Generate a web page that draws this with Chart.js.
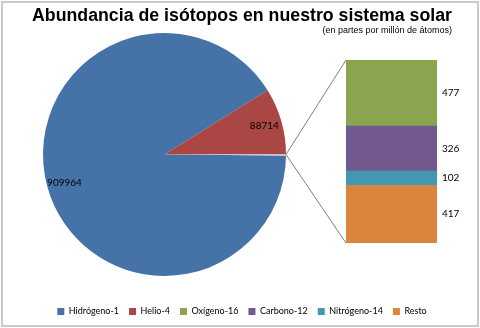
<!DOCTYPE html>
<html>
<head>
<meta charset="utf-8">
<title>Abundancia de isótopos</title>
<script src="https://cdn.jsdelivr.net/npm/chart.js@4"></script>
<style>
  body { margin: 0; background: #fff; }
  #marco { position: relative; width: 480px; height: 328px; overflow: hidden; }
  #borde { position: absolute; left: 1px; top: 1px; width: 474px; height: 322px; border: 2px solid #c9c9c9; }
  #tarta { position: absolute; left: 0; top: 0; }
  #barra { position: absolute; left: 346px; top: 60px; }
</style>
</head>
<body>
<div id="marco">
  <div id="borde"></div>
  <canvas id="tarta" width="480" height="328"></canvas>
  <canvas id="barra" width="131" height="183"></canvas>
</div>
<script>
// Datos (partes por millón de átomos)
var _nombresTarta = ['Hidrógeno-1', 'Helio-4'];
var _valoresTarta = [909964, 88714];
var _coloresTarta = ['#4572a7', '#aa4643'];

// Desglose del resto, de abajo hacia arriba en la barra
var _nombresBarra = ['Resto', 'Nitrógeno-14', 'Carbono-12', 'Oxígeno-16'];
var _valoresBarra = [417, 102, 326, 477];
var _coloresBarra = ['#db843d', '#4198af', '#71588f', '#89a54e'];

// Orden de la leyenda
var _ordenLeyenda = ['Hidrógeno-1', 'Helio-4', 'Oxígeno-16', 'Carbono-12', 'Nitrógeno-14', 'Resto'];

var _fuente = 'Lato, "Open Sans", sans-serif';
var _otros = _valoresBarra.reduce(function (a, b) { return a + b; }, 0);
var _total = _valoresTarta.reduce(function (a, b) { return a + b; }, 0) + _otros;

function colorDe(nombre) {
    var i = _nombresTarta.indexOf(nombre);
    if (i >= 0) return _coloresTarta[i];
    return _coloresBarra[_nombresBarra.indexOf(nombre)];
}

// Etiquetas de valor a la derecha de cada tramo de la barra
var etiquetasBarra = {
    id: 'etiquetasBarra',
    afterDatasetsDraw: function (chart) {
        var ctx = chart.ctx;
        ctx.save();
        ctx.font = '10px ' + _fuente;
        ctx.fillStyle = '#000';
        ctx.textAlign = 'left';
        ctx.textBaseline = 'middle';
        chart.data.datasets.forEach(function (ds, i) {
            var el = chart.getDatasetMeta(i).data[0];
            ctx.fillText(ds.data[0], el.x + el.width / 2 + 5, (el.y + el.base) / 2);
        });
        ctx.restore();
    }
};

var _barChart = new Chart(document.getElementById('barra').getContext('2d'), {
    type: 'bar',
    data: {
        labels: [''],
        datasets: _nombresBarra.map(function (n, i) {
            return {
                label: n,
                data: [_valoresBarra[i]],
                backgroundColor: _coloresBarra[i],
                borderWidth: 0,
                barPercentage: 1,
                categoryPercentage: 1
            };
        })
    },
    options: {
        responsive: false,
        animation: false,
        layout: { padding: { right: 40 } },
        scales: {
            x: { stacked: true, display: false },
            y: { stacked: true, display: false, min: 0, max: _otros }
        },
        plugins: { legend: { display: false }, tooltip: { enabled: false } }
    },
    plugins: [etiquetasBarra]
});

// Cajas vacías para dejar sitio a la barra y colocar la tarta
function hueco(posicion, tam) {
    return {
        position: posicion, weight: 0, fullSize: false, options: {},
        width: 0, height: 0, left: 0, top: 0, right: 0, bottom: 0,
        isHorizontal: function () { return posicion === 'top' || posicion === 'bottom'; },
        update: function (maxW, maxH) {
            if (this.isHorizontal()) { this.width = maxW; this.height = tam; }
            else { this.width = tam; this.height = maxH; }
        },
        draw: function () {}
    };
}
var huecos = {
    id: 'huecos',
    beforeInit: function (chart) {
        Chart.layouts.addBox(chart, hueco('left', 11));
        Chart.layouts.addBox(chart, hueco('right', 166));
        Chart.layouts.addBox(chart, hueco('bottom', 20));
    }
};

// Valores dentro de la tarta y líneas hacia la barra
var etiquetasTarta = {
    id: 'etiquetasTarta',
    afterDraw: function (chart) {
        var ctx = chart.ctx;
        var meta = chart.getDatasetMeta(0);
        ctx.save();
        ctx.font = '10px ' + _fuente;
        ctx.fillStyle = '#000';
        ctx.textAlign = 'center';
        ctx.textBaseline = 'middle';
        for (var i = 0; i < _valoresTarta.length; i++) {
            var arc = meta.data[i];
            var medio = (arc.startAngle + arc.endAngle) / 2;
            var r = arc.outerRadius * 0.855;
            ctx.fillText(_valoresTarta[i], arc.x + Math.cos(medio) * r, arc.y + Math.sin(medio) * r);
        }
        // conectores
        var resto = meta.data[2];
        var px = resto.x + resto.outerRadius, py = resto.y;
        var cv = document.getElementById('barra');
        var arriba = _barChart.getDatasetMeta(_nombresBarra.length - 1).data[0];
        var abajo = _barChart.getDatasetMeta(0).data[0];
        var bx = cv.offsetLeft + arriba.x - arriba.width / 2;
        ctx.strokeStyle = '#7f7f7f';
        ctx.lineWidth = 1;
        ctx.beginPath();
        ctx.moveTo(px, py);
        ctx.lineTo(bx, cv.offsetTop + arriba.y);
        ctx.moveTo(px, py);
        ctx.lineTo(bx, cv.offsetTop + abajo.base);
        ctx.stroke();
        ctx.restore();
    }
};

var _pieChart = new Chart(document.getElementById('tarta').getContext('2d'), {
    type: 'pie',
    data: {
        labels: _nombresTarta.concat(['Otros']),
        datasets: [{
            data: _valoresTarta.concat([_otros]),
            backgroundColor: _coloresTarta.concat(['#d5deea']),
            borderWidth: 0
        }]
    },
    options: {
        responsive: false,
        animation: false,
        rotation: 90 + 360 * _otros / _total,
        layout: { padding: { left: 32, right: 28, top: 0, bottom: 2 } },
        plugins: {
            title: {
                display: true,
                text: 'Abundancia de isótopos en nuestro sistema solar',
                color: '#000',
                font: { family: '"Liberation Sans", Arial, sans-serif', size: 18, weight: 'bold', lineHeight: 1 },
                padding: { top: 7, bottom: 0 }
            },
            subtitle: {
                display: true,
                text: '(en partes por millón de átomos)',
                align: 'end',
                color: '#000',
                font: { family: '"Liberation Sans", Arial, sans-serif', size: 9, lineHeight: 1 },
                padding: { top: 1, bottom: -3 }
            },
            legend: {
                position: 'bottom',
                onClick: null,
                labels: {
                    boxWidth: 7,
                    boxHeight: 7,
                    padding: 10,
                    color: '#222',
                    font: { family: _fuente, size: 9 },
                    generateLabels: function () {
                        return _ordenLeyenda.map(function (n) {
                            return { text: n, fillStyle: colorDe(n), strokeStyle: colorDe(n), lineWidth: 0, hidden: false };
                        });
                    }
                }
            },
            tooltip: { enabled: false }
        }
    },
    plugins: [huecos, etiquetasTarta]
});
</script>
</body>
</html>
